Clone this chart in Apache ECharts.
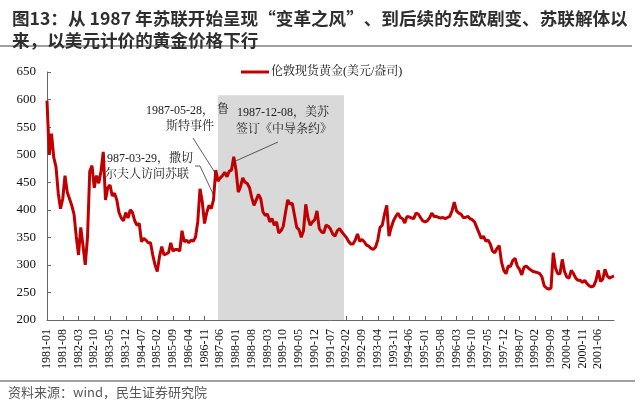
<!DOCTYPE html>
<html>
<head>
<meta charset="utf-8">
<script src="https://cdn.jsdelivr.net/npm/echarts@6/dist/echarts.min.js"></script>
<style>html,body{margin:0;padding:0;background:#fff;}#c{width:640px;height:405px;}</style>
</head>
<body>
<div id="c"></div>
<script>
// ---- data (monthly, London spot gold, USD/oz) ----
const gold1981_1985 = [
  598, 500, 538, 495, 478, 430, 402, 420, 462, 432, 420, 408,
  392, 352, 318, 368, 335, 300, 350, 470, 480, 440, 462, 448,
  470, 505, 418, 440, 445, 425, 430, 418, 395, 385, 380, 395,
  385, 400, 395, 380, 372, 375, 342, 348, 345, 340, 340, 318,
  300, 288, 315, 333, 318, 320, 322, 340, 325, 328, 328, 325
];
const gold1986_1990 = [
  362, 342, 345, 340, 345, 343, 350, 378, 438, 415, 375, 395,
  408, 402, 418, 472, 452, 458, 462, 468, 460, 470, 472, 496,
  472, 432, 442, 458, 450, 448, 440, 422, 408, 418, 428, 420,
  396, 390, 392, 378, 384, 372, 378, 358, 362, 370, 395, 418,
  410, 412, 390, 368, 364, 350, 362, 410, 385, 372, 378, 382
];
const gold1991_1995 = [
  398, 366, 360, 358, 372, 370, 365, 356, 352, 362, 366, 360,
  355, 350, 343, 338, 338, 345, 356, 343, 346, 342, 336, 334,
  330, 328, 332, 345, 368, 372, 392, 408, 352, 368, 380, 388,
  394, 386, 384, 376, 388, 387, 385, 384, 394, 392, 386, 380,
  378, 380, 385, 394, 388, 388, 386, 385, 386, 384, 386, 388
];
const gold1996_2002 = [
  398, 414, 398, 394, 392, 386, 386, 388, 384, 382, 378, 368,
  358, 348, 352, 343, 345, 338, 325, 322, 330, 335, 305, 290,
  284, 298, 297, 308, 312, 298, 292, 282, 296, 298, 294, 291,
  288, 287, 286, 284, 278, 262, 258, 256, 258, 322, 294, 284,
  284, 310, 288, 278, 276, 290, 284, 276, 272, 272, 268, 272,
  266, 262, 260, 262, 272, 290, 270, 274, 292, 280, 276, 278,
  280
];
const goldValues = gold1981_1985.concat(gold1986_1990, gold1991_1995, gold1996_2002);

const startYear = 1981, startMonth = 1;
const categories = [];
for (let i = 0; i < goldValues.length; i++) {
  const m = startMonth - 1 + i;
  const y = startYear + Math.floor(m / 12);
  const mm = (m % 12) + 1;
  categories.push(y + '-' + (mm < 10 ? '0' + mm : mm));
}
const labelStep = 7;
const lastLabel = '2001-06';
const yTicks = [200, 250, 300, 350, 400, 450, 500, 550, 600, 650];
const seriesName = '伦敦现货黄金(美元/盎司)';
const shadeRange = ['1987-05', '1992-01'];
const shadeTop = 608;
// annotation anchors: [category, value]
const anchors = {
  lusi: ['1987-04', 465],
  thatcher: ['1987-03', 427],
  inf: ['1987-12', 487]
};

const serif = "'Liberation Serif','Times New Roman','Noto Serif CJK SC','Noto Sans CJK SC',serif";
const sans = "'Noto Sans CJK SC','Microsoft YaHei',sans-serif";
const lastIdx = categories.indexOf(lastLabel);
const showTick = (i) => i % labelStep === 0 && i <= lastIdx;

const chart = echarts.init(document.getElementById('c'), null, {renderer: 'canvas'});
const option = {
  animation: false,
  backgroundColor: '#fff',
  title: {
    text: '图13：从 1987 年苏联开始呈现“变革之风”、到后续的东欧剧变、苏联解体以\n来，以美元计价的黄金价格下行',
    left: 7, top: 2,
    textStyle: {fontFamily: sans, fontSize: 17.6, fontWeight: 'bold', color: '#2e2e2e', lineHeight: 22}
  },
  legend: {
    data: [{name: seriesName, icon: 'rect'}],
    left: 236, top: 61,
    itemWidth: 28, itemHeight: 3,
    textStyle: {fontFamily: serif, fontSize: 12, color: '#111', padding: [0,0,0,-3]}
  },
  grid: {left: 47, right: 26, top: 72, bottom: 85, containLabel: false},
  xAxis: {
    type: 'category',
    data: categories,
    boundaryGap: false,
    axisLine: {lineStyle: {color: '#666', width: 1}},
    axisTick: {inside: true, interval: showTick, length: 4, lineStyle: {color: '#666'}},
    axisLabel: {interval: showTick, rotate: 90, margin: 9, fontFamily: serif, fontSize: 12, color: '#111', hideOverlap: false},
    splitLine: {show: false}
  },
  yAxis: {
    type: 'value',
    min: yTicks[0], max: yTicks[yTicks.length - 1], interval: 50,
    axisLine: {show: true, lineStyle: {color: '#666', width: 1}},
    axisTick: {show: true, inside: true, length: 4, lineStyle: {color: '#666'}},
    axisLabel: {fontFamily: serif, fontSize: 13, color: '#111', margin: 11},
    splitLine: {show: false}
  },
  series: [{
    name: seriesName,
    type: 'line',
    data: goldValues,
    symbol: 'none',
    lineStyle: {color: '#c00000', width: 3},
    itemStyle: {color: '#c00000'},
    z: 3,
    markArea: {
      silent: true,
      itemStyle: {color: '#d9d9d9'},
      data: [[{xAxis: shadeRange[0], yAxis: shadeTop}, {xAxis: shadeRange[1], yAxis: yTicks[0]}]]
    }
  }]
};
chart.setOption(option);

const pA = chart.convertToPixel({gridIndex: 0}, anchors.lusi);
const pB = chart.convertToPixel({gridIndex: 0}, anchors.thatcher);
const pC = chart.convertToPixel({gridIndex: 0}, anchors.inf);
const annStyle = {fontFamily: serif, fontSize: 12, fill: '#222'};
const lineStyle = {stroke: '#333', lineWidth: 0.8};
chart.setOption({
  graphic: [
    {type: 'line', shape: {x1: 0, y1: 46, x2: 632, y2: 46}, style: {stroke: '#444', lineWidth: 1.2}},
    {type: 'line', shape: {x1: 0, y1: 381, x2: 635, y2: 381}, style: {stroke: '#444', lineWidth: 1.2}},
    {type: 'text', left: 8, top: 386, style: {text: '资料来源：wind，民生证券研究院', fontFamily: sans, fontSize: 13, fill: '#595959'}},
    // annotation: 1987-05-28 鲁斯特事件
    {type: 'text', x: 214, y: 111, style: Object.assign({text: '1987-05-28，', align: 'right', verticalAlign: 'middle'}, annStyle)},
    {type: 'text', x: 217, y: 110, z: 10, style: Object.assign({text: '鲁', align: 'left', verticalAlign: 'middle'}, annStyle)},
    {type: 'text', x: 214, y: 127, style: Object.assign({text: '斯特事件', align: 'right', verticalAlign: 'middle'}, annStyle)},
    {type: 'line', z: 10, shape: {x1: 193, y1: 138, x2: pA[0], y2: pA[1]}, style: lineStyle},
    // annotation: 1987-03-29 撒切尔夫人访问苏联
    {type: 'text', x: 193, y: 159, style: Object.assign({text: '1987-03-29，撒切', align: 'right', verticalAlign: 'middle'}, annStyle)},
    {type: 'text', x: 189, y: 175, style: Object.assign({text: '尔夫人访问苏联', align: 'right', verticalAlign: 'middle'}, annStyle)},
    {type: 'polyline', z: 10, shape: {points: [[195, 166], [200, 166], [pB[0], pB[1]]]}, style: Object.assign({fill: null}, lineStyle)},
    // annotation: 1987-12-08 美苏签订《中导条约》
    {type: 'text', x: 237, y: 113, z: 10, style: Object.assign({text: '1987-12-08，美苏', align: 'left', verticalAlign: 'middle'}, annStyle)},
    {type: 'text', x: 236, y: 130, z: 10, style: Object.assign({text: '签订《中导条约》', align: 'left', verticalAlign: 'middle'}, annStyle)},
    {type: 'line', z: 10, shape: {x1: 278, y1: 142, x2: pC[0], y2: pC[1]}, style: lineStyle}
  ]
});
</script>
</body>
</html>
